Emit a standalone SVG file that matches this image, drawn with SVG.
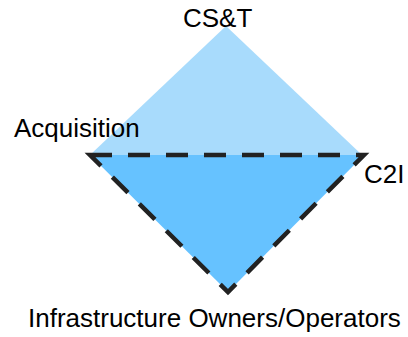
<svg xmlns="http://www.w3.org/2000/svg" width="408" height="337" viewBox="0 0 408 337">
  <style>
    .label { font-family: "Liberation Sans", Arial, sans-serif; font-size: 26px; fill: #000; }
    .upper { fill: #A8DBFC; }
    .lower { fill: #66C2FF; stroke: #222; stroke-width: 4.5; stroke-dasharray: 22 16; stroke-linejoin: miter; }
  </style>
  <rect width="408" height="337" fill="#fff"/>
  <g id="upper-triangle">
    <polygon class="upper" points="226,26 90,155 362,155"/>
  </g>
  <g id="lower-triangle">
    <polygon class="lower" points="90,155 364,155 228,292"/>
  </g>
  <g id="labels">
    <g id="cst"><text class="label" x="183" y="27">CS&amp;T</text></g>
    <g id="acquisition"><text class="label" x="14" y="137">Acquisition</text></g>
    <g id="c2i"><text class="label" x="364" y="183">C2I</text></g>
    <g id="owners"><text class="label" x="28" y="327">Infrastructure Owners/Operators</text></g>
  </g>
</svg>
